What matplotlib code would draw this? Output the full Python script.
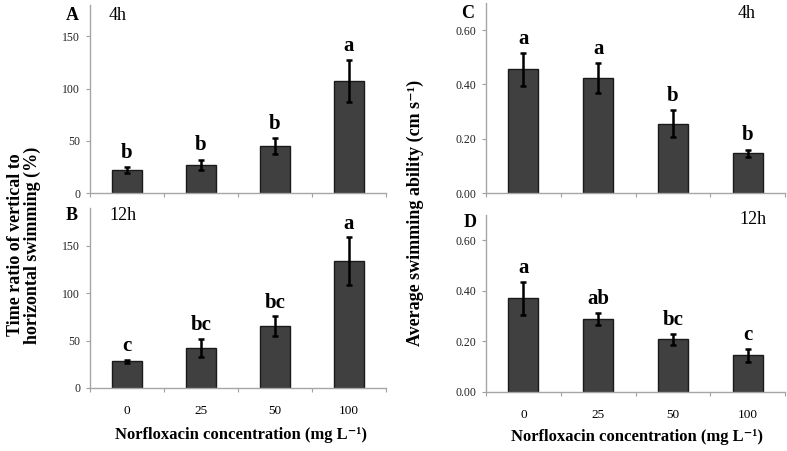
import matplotlib.pyplot as plt
import numpy as np

plt.rcParams['font.family'] = ['Liberation Serif', 'DejaVu Serif']

conc = ['0', '25', '50', '100']

# time ratio vertical / horizontal swimming (%)
ratio_4h = [22, 27, 45, 107]
ratio_4h_err = [2.5, 5, 7.5, 20]
ratio_4h_sig = ['b', 'b', 'b', 'a']
ratio_12h = [28, 42, 65, 134]
ratio_12h_err = [2, 9.5, 10.5, 25]
ratio_12h_sig = ['c', 'bc', 'bc', 'a']

# average swimming ability (cm s-1)
speed_4h = [0.456, 0.424, 0.256, 0.147]
speed_4h_err = [0.06, 0.055, 0.05, 0.013]
speed_4h_sig = ['a', 'a', 'b', 'b']
speed_12h = [0.371, 0.289, 0.209, 0.146]
speed_12h_err = [0.065, 0.023, 0.022, 0.026]
speed_12h_sig = ['a', 'ab', 'bc', 'c']

W, H = 787, 451
fig = plt.figure(figsize=(W / 100, H / 100), dpi=100)


def px_axes(x0, y_top, x1, y_bot):
    return fig.add_axes([x0 / W, 1 - y_bot / H, (x1 - x0) / W, (y_bot - y_top) / H])


def draw_panel(ax, vals, errs, sig, ymax, yticks, fmt, offset, show_x):
    x = np.arange(len(vals))
    ax.bar(x, vals, width=0.4, color='#404040', edgecolor='#1a1a1a', linewidth=1.0, zorder=2)
    ax.errorbar(x, vals, yerr=errs, fmt='none', ecolor='black', elinewidth=1.8,
                capsize=2.5, capthick=1.8, zorder=3)
    for xi, v, e, s in zip(x, vals, errs, sig):
        ax.text(xi, v + e + offset, s, ha='center', va='bottom', fontsize=15,
                fontweight='bold')
    ax.set_xlim(-0.5, len(vals) - 0.5)
    ax.set_ylim(0, ymax)
    ax.set_yticks(yticks)
    ax.set_yticklabels([fmt.format(t) for t in yticks], fontsize=8.5, color='#222222')
    ax.set_xticks(np.arange(len(vals) + 1) - 0.5)
    ax.set_xticklabels([])
    ax.set_xticks(x, minor=True)
    if show_x:
        ax.set_xticklabels(conc, minor=True, fontsize=9.5)
    ax.tick_params(axis='x', which='minor', length=0, pad=12)
    ax.tick_params(axis='x', which='major', length=3, color='#a0a0a0', direction='out')
    ax.tick_params(axis='y', length=3, color='#a0a0a0', direction='out', pad=4)
    for side in ['top', 'right']:
        ax.spines[side].set_visible(False)
    for side in ['left', 'bottom']:
        ax.spines[side].set_color('#a6a6a6')
        ax.spines[side].set_linewidth(1.0)
    ax.patch.set_alpha(0)


axA = px_axes(90, 5, 386, 193)
draw_panel(axA, ratio_4h, ratio_4h_err, ratio_4h_sig, 180, [0, 50, 100, 150], '{:g}', 4, False)
axB = px_axes(90, 208, 386, 388)
draw_panel(axB, ratio_12h, ratio_12h_err, ratio_12h_sig, 190, [0, 50, 100, 150], '{:g}', 4, True)
axC = px_axes(486, 3, 785, 193)
draw_panel(axC, speed_4h, speed_4h_err, speed_4h_sig, 0.7, [0, 0.2, 0.4, 0.6], '{:.2f}', 0.015, False)
axD = px_axes(486, 215, 785, 392)
draw_panel(axD, speed_12h, speed_12h_err, speed_12h_sig, 0.7, [0, 0.2, 0.4, 0.6], '{:.2f}', 0.015, True)


def ftext(x, y, s, **kw):
    fig.text(x / W, 1 - y / H, s, **kw)


# panel letters and time labels
ftext(72, 15, 'A', fontsize=13, fontweight='bold', ha='center', va='center')
ftext(118, 16, '4h', fontsize=13, ha='center', va='center')
ftext(72, 215, 'B', fontsize=13, fontweight='bold', ha='center', va='center')
ftext(123, 215, '12h', fontsize=13, ha='center', va='center')
ftext(468, 13, 'C', fontsize=13, fontweight='bold', ha='center', va='center')
ftext(747, 13, '4h', fontsize=13, ha='center', va='center')
ftext(470, 223, 'D', fontsize=13, fontweight='bold', ha='center', va='center')
ftext(753, 219, '12h', fontsize=13, ha='center', va='center')

# axis titles
ftext(241, 435, 'Norfloxacin concentration (mg L\u207b\u00b9)', fontsize=12,
      fontweight='bold', ha='center', va='center')
ftext(637, 437, 'Norfloxacin concentration (mg L\u207b\u00b9)', fontsize=12,
      fontweight='bold', ha='center', va='center')
ftext(24, 245, 'Time ratio of vertical to\nhorizontal swimming (%)', fontsize=13,
      fontweight='bold', ha='center', va='center', rotation=90, linespacing=1.0)
ftext(415, 213, 'Average swimming ability (cm s\u207b\u00b9)', fontsize=13,
      fontweight='bold', ha='center', va='center', rotation=90)

fig.savefig('out.png', dpi=100)
